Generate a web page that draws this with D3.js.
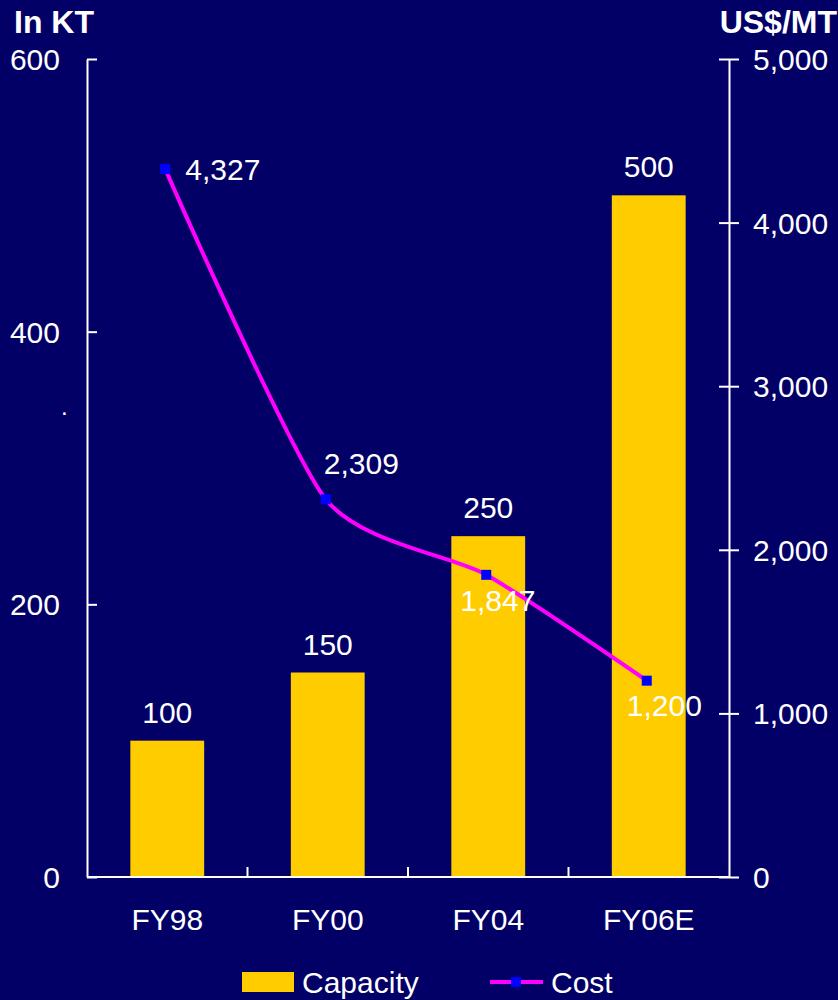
<!DOCTYPE html>
<html>
<head>
<meta charset="utf-8">
<script src="https://cdn.jsdelivr.net/npm/d3@7"></script>
<style>
  html, body { margin: 0; padding: 0; background: #020066; }
  svg { display: block; }
  text { font-family: "Liberation Sans", Arial, sans-serif; fill: #ffffff; }
</style>
</head>
<body>
<svg id="chart" width="838" height="1000"></svg>
<script>
// Capacity (KT) and cost (US$/MT) by fiscal year
const categories = ["FY98", "FY00", "FY04", "FY06E"];
const capacity = [100, 150, 250, 500];
const cost = [4327, 2309, 1847, 1200];
const leftTicks = [0, 200, 400, 600];
const rightTicks = [0, 1000, 2000, 3000, 4000, 5000];

const W = 838, H = 1000;
const bg = "#020066", yellow = "#ffcc00", magenta = "#ff00ff", blue = "#0000ff";
const plot = { left: 87, right: 729, top: 59, bottom: 877 };
const FS = 30;

const svg = d3.select("#chart");
svg.append("rect").attr("width", W).attr("height", H).attr("fill", bg);

const x = d3.scaleBand().domain(categories).range([plot.left, plot.right]).paddingInner(0.54).paddingOuter(0.27);
const yL = d3.scaleLinear().domain([0, 600]).range([plot.bottom, plot.top]);
const yR = d3.scaleLinear().domain([0, 5000]).range([plot.bottom, plot.top]);
const fmt = d3.format(",");

// Bars
svg.append("g").selectAll("rect").data(capacity).join("rect")
  .attr("x", (d, i) => x(categories[i]))
  .attr("y", d => yL(d))
  .attr("width", x.bandwidth())
  .attr("height", d => yL(0) - yL(d))
  .attr("fill", yellow);

// Bar value labels
svg.append("g").selectAll("text").data(capacity).join("text")
  .attr("x", (d, i) => x(categories[i]) + x.bandwidth() / 2)
  .attr("y", d => yL(d) - 18)
  .attr("text-anchor", "middle")
  .attr("font-size", FS)
  .text(d => fmt(d));

// Left axis
const gL = svg.append("g").attr("transform", `translate(${plot.left},0)`)
  .call(d3.axisLeft(yL).tickValues(leftTicks).tickSize(-10).tickPadding(27).tickSizeOuter(0));
gL.select(".domain").attr("stroke", "#fff").attr("stroke-width", 2);
gL.selectAll(".tick line").attr("stroke", "#fff").attr("stroke-width", 2);
gL.selectAll(".tick text").attr("font-size", FS).attr("font-family", "Liberation Sans, Arial, sans-serif").attr("fill", "#fff").attr("dy", "0.35em");

// Right axis with crossing ticks
const gR = svg.append("g").attr("transform", `translate(${plot.right},0)`)
  .call(d3.axisRight(yR).tickValues(rightTicks).tickFormat(fmt).tickSize(10).tickPadding(14).tickSizeOuter(0));
gR.select(".domain").attr("stroke", "#fff").attr("stroke-width", 2);
gR.selectAll(".tick line").attr("x1", -10).attr("x2", 10).attr("stroke", "#fff").attr("stroke-width", 2);
gR.selectAll(".tick text").attr("font-size", FS).attr("font-family", "Liberation Sans, Arial, sans-serif").attr("fill", "#fff").attr("dy", "0.35em");

// Category axis with boundary ticks pointing up
svg.append("line").attr("x1", plot.left).attr("x2", plot.right)
  .attr("y1", plot.bottom).attr("y2", plot.bottom).attr("stroke", "#fff").attr("stroke-width", 2);
const step = x.step();
const bounds = categories.slice(1).map(c => x(c) - x.paddingInner() * step / 2);
svg.append("g").selectAll("line").data(bounds).join("line")
  .attr("x1", d => d).attr("x2", d => d)
  .attr("y1", plot.bottom).attr("y2", plot.bottom - 10)
  .attr("stroke", "#fff").attr("stroke-width", 2);
svg.append("g").selectAll("text").data(categories).join("text")
  .attr("x", d => x(d) + x.bandwidth() / 2)
  .attr("y", 930)
  .attr("text-anchor", "middle")
  .attr("font-size", FS)
  .text(d => d);

// Cost line (smoothed)
const px = (d, i) => x(categories[i]) + x.bandwidth() / 2 - 2;
const line = d3.line().x(px).y(d => yR(d)).curve(d3.curveCardinal.tension(0.35));
svg.append("path").datum(cost).attr("d", line)
  .attr("fill", "none").attr("stroke", magenta).attr("stroke-width", 4);
svg.append("g").selectAll("rect").data(cost).join("rect")
  .attr("x", (d, i) => px(d, i) - 5).attr("y", d => yR(d) - 5)
  .attr("width", 10).attr("height", 10).attr("fill", blue);

// Cost value labels
const costOffsets = [[20, 11], [-2, -25], [-26, 36], [-20, 35]];
svg.append("g").selectAll("text").data(cost).join("text")
  .attr("x", (d, i) => px(d, i) + costOffsets[i][0])
  .attr("y", (d, i) => yR(d) + costOffsets[i][1])
  .attr("font-size", FS)
  .text(d => fmt(d));

// Axis titles
svg.append("text").attr("x", 14).attr("y", 33).attr("font-size", 32).attr("font-weight", "bold").text("In KT");
svg.append("text").attr("x", 837).attr("y", 33).attr("font-size", 32).attr("font-weight", "bold").attr("text-anchor", "end").text("US$/MT");
svg.append("text").attr("x", 61).attr("y", 415).attr("font-size", 24).text(".");

// Legend
const lg = svg.append("g");
lg.append("rect").attr("x", 242).attr("y", 972).attr("width", 52).attr("height", 20).attr("fill", yellow);
lg.append("text").attr("x", 302).attr("y", 993).attr("font-size", FS).text("Capacity");
lg.append("line").attr("x1", 490).attr("x2", 543).attr("y1", 982).attr("y2", 982).attr("stroke", magenta).attr("stroke-width", 4);
lg.append("rect").attr("x", 511).attr("y", 977).attr("width", 10).attr("height", 10).attr("fill", blue);
lg.append("text").attr("x", 551).attr("y", 993).attr("font-size", FS).text("Cost");
</script>
</body>
</html>
